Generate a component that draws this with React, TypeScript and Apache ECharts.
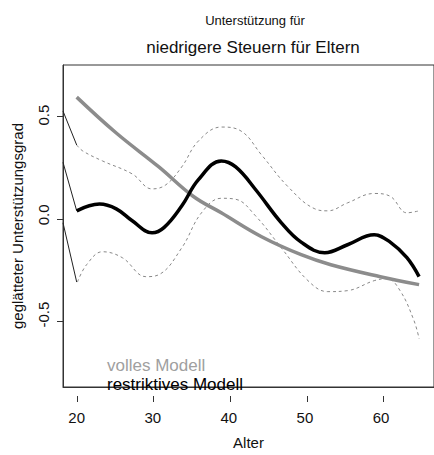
import React, { useEffect, useRef } from "react";
import * as echarts from "echarts";

// Ages (x) and smoothed support values (y)
const fullAges = [20, 25.2, 30.8, 35.3, 39.0, 44.3, 49.5, 53.4, 59.9, 65];
const fullValues = [0.59, 0.41, 0.24, 0.093, 0.01, -0.11, -0.2, -0.25, -0.31, -0.35];

const restrAges = [20, 23.0, 25.2, 27.3, 29.9, 31.5, 33.8, 36.0, 39.0, 40.9, 43.5, 46.9, 49.5, 52.6, 55.6, 59.1, 61.2, 63.4, 65];
const restrValues = [0.02, 0.054, 0.03, -0.03, -0.09, -0.063, 0.044, 0.176, 0.27, 0.24, 0.127, -0.04, -0.137, -0.19, -0.15, -0.1, -0.137, -0.215, -0.31];

const upperAges = [20, 20.8, 23.4, 27.3, 29.9, 31.7, 33.8, 36.0, 39.0, 41.6, 44.3, 47.8, 51.3, 53.0, 55.6, 59.1, 61.2, 63.4, 65];
const upperValues = [0.35, 0.32, 0.27, 0.205, 0.13, 0.15, 0.24, 0.37, 0.44, 0.42, 0.3, 0.14, 0.03, 0.02, 0.06, 0.107, 0.093, 0.01, 0.02];

const lowerAges = [20.1, 21.3, 23.4, 26.0, 29.1, 30.8, 33.8, 36.4, 39.0, 40.9, 43.5, 46.9, 50.4, 53.0, 55.6, 59.1, 60.8, 62.5, 64.3, 65];
const lowerValues = [-0.337, -0.25, -0.185, -0.215, -0.31, -0.3, -0.166, 0.01, 0.083, 0.078, -0.005, -0.166, -0.33, -0.385, -0.38, -0.33, -0.32, -0.38, -0.527, -0.62];

// thin lines entering from the left edge
const edgeAges = [18.2, 20];
const edgeUpper = [0.52, 0.35];
const edgeMiddle = [0.263, 0.02];
const edgeLower = [-0.04, -0.337];

const xTicks = [20, 30, 40, 50, 60];
const yTicks = [-0.5, 0, 0.5];

const titleTop = "Unterstützung für";
const titleMain = "niedrigere Steuern für Eltern";
const xName = "Alter";
const yName = "geglätteter Unterstützungsgrad";
const nameFull = "volles Modell";
const nameRestr = "restriktives Modell";

const zip = (xs: number[], ys: number[]) => xs.map((x, i) => [x, ys[i]]);

const FONT = "Liberation Sans, Arial, Helvetica, sans-serif";

// plot frame geometry
const G_LEFT = 63;
const G_TOP = 65;
const G_W = 374;
const G_H = 331;
const X_MIN = 18.2;
const X_MAX = 66.96;
const Y_MIN = -0.863;
const Y_MAX = 0.751;

export default function App() {
  const ref = useRef<HTMLDivElement>(null);
  useEffect(() => {
    if (!ref.current) return;
    const chart = echarts.init(ref.current, undefined, { renderer: "svg" });
    const pxX = G_W / (X_MAX - X_MIN);
    const pxY = G_H / (Y_MAX - Y_MIN);
    const xt0 = xTicks[0];
    const xt1 = xTicks[xTicks.length - 1];
    const yt0 = yTicks[0];
    const yt1 = yTicks[yTicks.length - 1];
    const thin = (name: string, ys: number[]) => ({
      name,
      type: "line",
      data: zip(edgeAges, ys),
      showSymbol: false,
      symbol: "none",
      lineStyle: { color: "#222", width: 1 },
      z: 1,
    });
    const hiddenAxis = { show: false };
    chart.setOption({
      animation: false,
      textStyle: { fontFamily: FONT },
      title: [
        {
          text: titleTop,
          left: 250,
          top: 9,
          textAlign: "center",
          textStyle: { fontSize: 13, fontWeight: "normal", color: "#111", fontFamily: FONT },
        },
        {
          text: titleMain,
          left: 248,
          top: 34,
          textAlign: "center",
          textStyle: { fontSize: 17, fontWeight: "normal", color: "#111", fontFamily: FONT },
        },
      ],
      legend: {
        orient: "vertical",
        left: 97,
        top: 352,
        icon: "none",
        itemWidth: 0,
        itemHeight: 10,
        itemGap: 2,
        selectedMode: false,
        textStyle: { fontSize: 17, fontFamily: FONT },
        data: [
          { name: nameFull, textStyle: { color: "#a0a0a0" } },
          { name: nameRestr, textStyle: { color: "#000" } },
        ],
      },
      grid: [
        {
          left: G_LEFT,
          top: G_TOP,
          width: G_W,
          height: G_H,
          show: true,
          borderColor: "#333",
          borderWidth: 1,
          backgroundColor: "transparent",
        },
        {
          // x tick marks
          left: G_LEFT + (xt0 - X_MIN) * pxX,
          top: G_TOP,
          width: (xt1 - xt0) * pxX,
          height: G_H,
        },
        {
          // y tick marks
          left: G_LEFT,
          top: G_TOP + (Y_MAX - yt1) * pxY,
          width: G_W,
          height: (yt1 - yt0) * pxY,
        },
      ],
      xAxis: [
        {
          type: "value",
          gridIndex: 0,
          min: X_MIN,
          max: X_MAX,
          name: xName,
          nameLocation: "middle",
          nameGap: 48,
          nameTextStyle: { fontSize: 15, color: "#111", fontFamily: FONT },
          axisLine: { show: true, onZero: false, lineStyle: { color: "#333", width: 1 } },
          axisTick: { show: false },
          axisLabel: { customValues: xTicks, fontSize: 15, margin: 23, color: "#111", fontFamily: FONT },
          splitLine: { show: false },
        },
        {
          type: "value",
          gridIndex: 1,
          min: xt0,
          max: xt1,
          interval: 10,
          axisLine: { show: false, onZero: false },
          axisTick: { show: true, length: 6, lineStyle: { color: "#333", width: 1 } },
          axisLabel: { show: false },
          splitLine: { show: false },
        },
        { type: "value", gridIndex: 2, ...hiddenAxis },
      ],
      yAxis: [
        {
          type: "value",
          gridIndex: 0,
          min: Y_MIN,
          max: Y_MAX,
          name: yName,
          nameLocation: "middle",
          nameRotate: 90,
          nameGap: 38,
          nameTextStyle: { fontSize: 15, color: "#111", fontFamily: FONT },
          axisLine: { show: true, onZero: false, lineStyle: { color: "#333", width: 1 } },
          axisTick: { show: false },
          axisLabel: {
            customValues: yTicks,
            rotate: 90,
            fontSize: 15,
            margin: 12,
            color: "#111",
            fontFamily: FONT,
            formatter: (v: number) => v.toFixed(1),
          },
          splitLine: { show: false },
        },
        { type: "value", gridIndex: 1, ...hiddenAxis },
        {
          type: "value",
          gridIndex: 2,
          min: yt0,
          max: yt1,
          interval: 0.5,
          axisLine: { show: false, onZero: false },
          axisTick: { show: true, length: 6, lineStyle: { color: "#333", width: 1 } },
          axisLabel: { show: false },
          splitLine: { show: false },
        },
      ],
      series: [
        thin("edge-upper", edgeUpper),
        thin("edge-middle", edgeMiddle),
        thin("edge-lower", edgeLower),
        {
          name: "obere Grenze",
          type: "line",
          data: zip(upperAges, upperValues),
          smooth: 0.4,
          symbol: "none",
          lineStyle: { color: "#888", width: 1, type: [3, 3] },
          z: 2,
        },
        {
          name: "untere Grenze",
          type: "line",
          data: zip(lowerAges, lowerValues),
          smooth: 0.4,
          symbol: "none",
          lineStyle: { color: "#888", width: 1, type: [3, 3] },
          z: 2,
        },
        {
          name: nameFull,
          type: "line",
          data: zip(fullAges, fullValues),
          smooth: 0.4,
          symbol: "none",
          itemStyle: { color: "#8c8c8c" },
          lineStyle: { color: "#8c8c8c", width: 3.5 },
          z: 3,
        },
        {
          name: nameRestr,
          type: "line",
          data: zip(restrAges, restrValues),
          smooth: 0.4,
          symbol: "none",
          itemStyle: { color: "#000" },
          lineStyle: { color: "#000", width: 3.5 },
          z: 4,
        },
      ],
    });
    return () => chart.dispose();
  }, []);
  return (
    <div
      ref={ref}
      style={{ position: "fixed", left: 0, top: 0, width: 434, height: 455, background: "#fff" }}
    />
  );
}
